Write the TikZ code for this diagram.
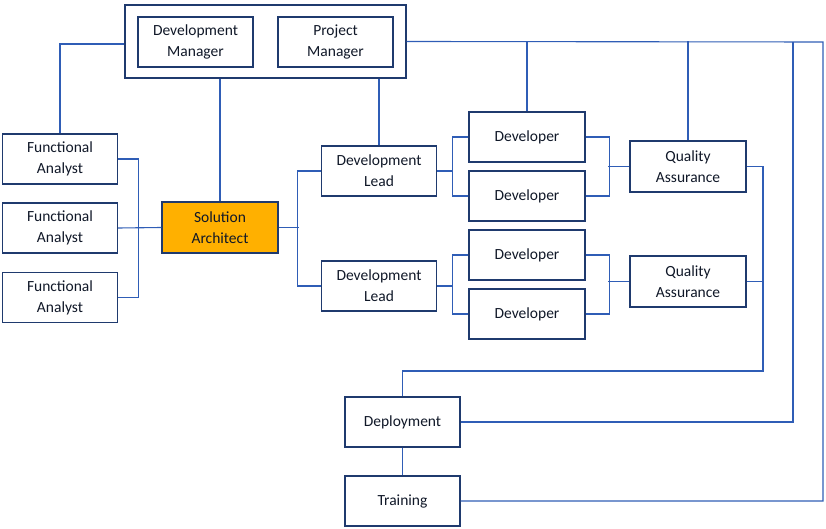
\documentclass[tikz,border=0pt]{standalone}
\usepackage{fontspec}
\setmainfont{Carlito}
\definecolor{ln}{HTML}{2F5DB6}
\definecolor{bd}{HTML}{1F3A6E}
\definecolor{sa}{HTML}{FFB000}
\definecolor{tx}{HTML}{101828}
\begin{document}
\begin{tikzpicture}[x=1pt,y=-1pt,
  box/.style={draw=bd,line width=1.3pt,fill=white,minimum width=115pt,minimum height=50pt,align=center,inner sep=0pt,
    font=\fontsize{15.5pt}{21pt}\selectfont,text=tx},
  conn/.style={draw=ln,line width=1.1pt}]
\useasboundingbox (0,0) rectangle (826,529);
% nodes
\node[box,minimum width=281pt,minimum height=73pt] (top) at (265.5,41.5) {};
\node[box] (dm) at (195.5,42) {Development\\Manager};
\node[box] (pm) at (335.5,42) {Project\\Manager};
\node[box] (fa1) at (60,159) {Functional\\Analyst};
\node[box] (fa2) at (60,228) {Functional\\Analyst};
\node[box] (fa3) at (60,297.5) {Functional\\Analyst};
\node[box,fill=sa,minimum width=116pt,minimum height=51pt] (sa) at (220,227.5) {Solution\\Architect};
\node[box] (dl1) at (379,171) {Development\\Lead};
\node[box] (dl2) at (379,286) {Development\\Lead};
\node[box,minimum width=116pt] (d1) at (527,137) {Developer};
\node[box,minimum width=116pt] (d2) at (527,196) {Developer};
\node[box,minimum width=116pt] (d3) at (527,255) {Developer};
\node[box,minimum width=116pt] (d4) at (527,314) {Developer};
\node[box,minimum width=116pt,minimum height=51pt] (qa1) at (688,166.5) {Quality\\Assurance};
\node[box,minimum width=116pt,minimum height=51pt] (qa2) at (688,281.5) {Quality\\Assurance};
\node[box] (dep) at (402.5,422) {Deployment};
\node[box] (tr) at (402.5,501) {Training};
\coordinate (rt) at (823,42);
\coordinate (r2) at (793,42);
\coordinate (qj) at (763,371);
% connectors
\draw[conn] ([yshift=-2.5pt]top.west) -| (fa1.north);
\draw[conn] (top.south -| sa.north) -- (sa.north);
\draw[conn] (top.south -| dl1.north) -- (dl1.north);
\draw[conn] (top.east) -- (rt) |- (tr.east);
\draw[conn] (r2) |- (dep.east);
\draw[conn] (top.east -| d1.north) -- (d1.north);
\draw[conn] (top.east -| qa1.north) -- (qa1.north);
\draw[conn] (fa1.east) -- ++(20,0) |- (fa3.east);
\draw[conn] (fa2.east) -- (sa.west);
\draw[conn] (sa.east) -- ++(20,0);
\draw[conn] (dl1.west) -- ++(-23,0) |- (dl2.west);
\draw[conn] (dl1.east) -- ++(16,0);
\draw[conn] (dl2.east) -- ++(16,0);
\draw[conn] (d1.west) -- ++(-16,0) |- (d2.west);
\draw[conn] (d3.west) -- ++(-16,0) |- (d4.west);
\draw[conn] (d1.east) -- ++(24,0) |- (d2.east);
\draw[conn] (d3.east) -- ++(24,0) |- (d4.east);
\draw[conn] (qa1.west) -- ++(-21,0);
\draw[conn] (qa2.west) -- ++(-21,0);
\draw[conn] (qa1.east) -| (qj) -| (dep.north);
\draw[conn] (qa2.east) -- (qa2.east -| qj);
\draw[conn] (dep.south) -- (tr.north);
\end{tikzpicture}
\end{document}
